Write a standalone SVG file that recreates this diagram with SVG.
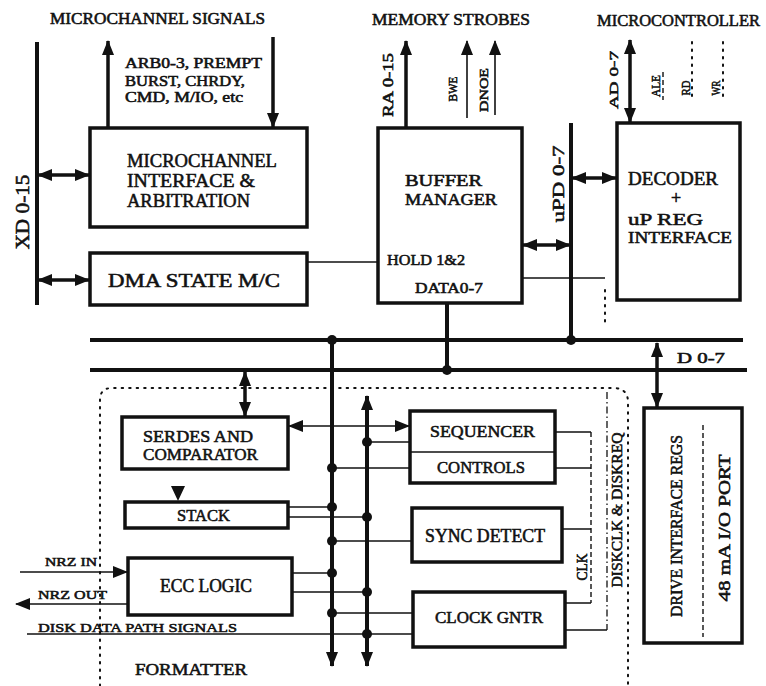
<svg xmlns="http://www.w3.org/2000/svg" width="766" height="686" viewBox="0 0 766 686">
<defs>
<style>
.t{font-family:"Liberation Serif","DejaVu Serif",serif;font-weight:normal;fill:#111;stroke:#111;stroke-width:0.55}
.s13{font-size:13px}.s14{font-size:14px}.s15{font-size:15px}.s16{font-size:16px}.s17{font-size:17px}.s18{font-size:18px}.s19{font-size:19px}
.box{fill:#fff;stroke:#111;stroke-width:3.5}
.bus{fill:none;stroke:#111;stroke-width:4}
.arr{fill:none;stroke:#111;stroke-width:3.5}
.thin{fill:none;stroke:#111;stroke-width:1.6}
.dash{fill:none;stroke:#111;stroke-width:1.4;stroke-dasharray:5 3}
.dot{fill:none;stroke:#111;stroke-width:2;stroke-dasharray:1.5 6;stroke-linecap:round}
.dd{fill:none;stroke:#111;stroke-width:1.3;stroke-dasharray:7 3 1.5 3}
.jn{fill:#111}
</style>
<marker id="ah" viewBox="0 0 15 12" refX="14" refY="6" markerWidth="15" markerHeight="12" markerUnits="userSpaceOnUse" orient="auto-start-reverse"><path d="M0,0 L15,6 L0,12 Z" fill="#111"/></marker>
</defs>
<rect width="766" height="686" fill="#fff"/>

<g id="titles">
<text class="t s16" x="50" y="24" textLength="215" lengthAdjust="spacingAndGlyphs">MICROCHANNEL SIGNALS</text>
<text class="t s16" x="372" y="25" textLength="158" lengthAdjust="spacingAndGlyphs">MEMORY STROBES</text>
<text class="t s16" x="597" y="26" textLength="163" lengthAdjust="spacingAndGlyphs">MICROCONTROLLER</text>
</g>

<g id="connectors">
<path class="bus" d="M37,42 V305"/>
<path class="arr" d="M108,128 V41" marker-end="url(#ah)"/>
<path class="arr" d="M273,37 V127" marker-end="url(#ah)"/>
<path class="arr" d="M38,175 H89" marker-start="url(#ah)" marker-end="url(#ah)"/>
<path class="arr" d="M38,280 H89" marker-start="url(#ah)" marker-end="url(#ah)"/>
<path class="arr" d="M406,128 V41" marker-end="url(#ah)"/>
<path class="thin" d="M467,118 V41" marker-end="url(#ah)"/>
<path class="thin" d="M495,115 V41" marker-end="url(#ah)"/>
<path class="bus" d="M571,123 V340"/>
<path class="arr" d="M523,245 H570" marker-start="url(#ah)" marker-end="url(#ah)"/>
<path class="arr" d="M572,178 H616" marker-start="url(#ah)" marker-end="url(#ah)"/>
<path class="arr" d="M630,40 V122" marker-start="url(#ah)" marker-end="url(#ah)"/>
<path class="dash" d="M663,72 V100"/>
<path class="dot" d="M692,42 V100"/>
<path class="dot" d="M723,42 V100"/>
<path class="thin" d="M307,262 H378"/>
<path class="thin" d="M522,278 H605"/>
<path class="dot" d="M605,290 V326"/>
<path class="bus" d="M447,303 V370"/>
<path class="bus" d="M90,340 H743"/>
<path class="bus" d="M90,370 H747"/>
<path class="arr" d="M657,343 V407" marker-start="url(#ah)" marker-end="url(#ah)"/>
<path class="arr" d="M245,372 V416" marker-start="url(#ah)" marker-end="url(#ah)"/>
<path class="bus" d="M332,340 V666" marker-end="url(#ah)"/>
<path class="bus" d="M367,396 V666" marker-start="url(#ah)" marker-end="url(#ah)"/>
<path class="thin" d="M289,426 H409" marker-start="url(#ah)" marker-end="url(#ah)"/>
<path class="thin" d="M367,442 H410"/>
<path class="thin" d="M332,468 H410"/>
<path class="thin" d="M288,507 H332"/>
<path class="thin" d="M288,517 H367"/>
<path class="thin" d="M332,541 H412"/>
<path class="thin" d="M292,573 H332"/>
<path class="thin" d="M292,592 H367"/>
<path class="thin" d="M332,613 H413"/>
<path class="thin" d="M27,634 H413"/>
<path class="thin" d="M20,572 H127" marker-end="url(#ah)"/>
<path class="thin" d="M128,604 H16" marker-end="url(#ah)"/>
<path class="thin" d="M555,432 H591 M555,468 H591 M562,529 H591 M565,603 H591 M565,630 H607"/>
<path class="dash" d="M591,432 V603"/>
<path class="dd" d="M607,392 V630"/>
<path d="M171,486 L185,486 L178,501 Z" fill="#111"/>
<circle class="jn" cx="332" cy="340" r="5"/>
<circle class="jn" cx="571" cy="340" r="5"/>
<circle class="jn" cx="447" cy="370" r="5"/>
<circle class="jn" cx="367" cy="442" r="5"/>
<circle class="jn" cx="332" cy="468" r="5"/>
<circle class="jn" cx="332" cy="507" r="5"/>
<circle class="jn" cx="367" cy="517" r="5"/>
<circle class="jn" cx="332" cy="541" r="5"/>
<circle class="jn" cx="332" cy="573" r="5"/>
<circle class="jn" cx="367" cy="592" r="5"/>
<circle class="jn" cx="332" cy="613" r="5"/>
<circle class="jn" cx="367" cy="634" r="5"/>
</g>

<g id="formatter">
<path class="dot" d="M100,686 V400 Q100,388 112,388 H615 Q628,389 628,402 V686"/>
<text class="t s17" x="135" y="675" textLength="112" lengthAdjust="spacingAndGlyphs">FORMATTER</text>
</g>

<g id="labels">
<text class="t s14" x="125" y="68" textLength="137" lengthAdjust="spacingAndGlyphs">ARB0-3, PREMPT</text>
<text class="t s14" x="125" y="86" textLength="120" lengthAdjust="spacingAndGlyphs">BURST, CHRDY,</text>
<text class="t s14" x="125" y="102" textLength="118" lengthAdjust="spacingAndGlyphs">CMD, M/IO, etc</text>
<text class="t s18" transform="translate(29,212) rotate(-90)" text-anchor="middle" textLength="75" lengthAdjust="spacingAndGlyphs">XD 0-15</text>
<text class="t s15" transform="translate(393,85) rotate(-90)" text-anchor="middle" textLength="64" lengthAdjust="spacingAndGlyphs">RA 0-15</text>
<text class="t s13" transform="translate(457,89) rotate(-90)" text-anchor="middle" textLength="25" lengthAdjust="spacingAndGlyphs">BWE</text>
<text class="t s13" transform="translate(488,90) rotate(-90)" text-anchor="middle" textLength="44" lengthAdjust="spacingAndGlyphs">DNOE</text>
<text class="t s17" transform="translate(564,184) rotate(-90)" text-anchor="middle" textLength="77" lengthAdjust="spacingAndGlyphs">uPD 0-7</text>
<text class="t s13" transform="translate(618,80) rotate(-90)" text-anchor="middle" textLength="58" lengthAdjust="spacingAndGlyphs">AD 0-7</text>
<text class="t s13" transform="translate(660,86) rotate(-90)" text-anchor="middle" textLength="22" lengthAdjust="spacingAndGlyphs">ALE</text>
<text class="t s13" transform="translate(690,88) rotate(-90)" text-anchor="middle" textLength="15" lengthAdjust="spacingAndGlyphs">RD</text>
<text class="t s13" transform="translate(720,88) rotate(-90)" text-anchor="middle" textLength="15" lengthAdjust="spacingAndGlyphs">WR</text>
<text class="t s15" x="677" y="363" textLength="48" lengthAdjust="spacingAndGlyphs">D 0-7</text>
<text class="t s13" x="45" y="566" textLength="52" lengthAdjust="spacingAndGlyphs">NRZ IN</text>
<text class="t s13" x="38" y="599" textLength="69" lengthAdjust="spacingAndGlyphs">NRZ OUT</text>
<text class="t s13" x="38" y="632" textLength="199" lengthAdjust="spacingAndGlyphs">DISK DATA PATH SIGNALS</text>
<text class="t s14" transform="translate(587,567) rotate(-90)" text-anchor="middle" textLength="27" lengthAdjust="spacingAndGlyphs">CLK</text>
<text class="t s15" transform="translate(622,510) rotate(-90)" text-anchor="middle" textLength="155" lengthAdjust="spacingAndGlyphs">DISKCLK &amp; DISKREQ</text>
</g>

<g id="mc-interface">
<rect class="box" x="90" y="128" width="217" height="99"/>
<text class="t s19" x="127" y="167" textLength="150" lengthAdjust="spacingAndGlyphs">MICROCHANNEL</text>
<text class="t s19" x="127" y="187" textLength="128" lengthAdjust="spacingAndGlyphs">INTERFACE &amp;</text>
<text class="t s19" x="127" y="207" textLength="123" lengthAdjust="spacingAndGlyphs">ARBITRATION</text>
</g>

<g id="dma">
<rect class="box" x="90" y="253" width="217" height="52"/>
<text class="t s19" x="108" y="287" textLength="172" lengthAdjust="spacingAndGlyphs">DMA STATE M/C</text>
</g>

<g id="buffer-manager">
<rect class="box" x="378" y="128" width="144" height="175"/>
<text class="t s16" x="405" y="186" textLength="77" lengthAdjust="spacingAndGlyphs">BUFFER</text>
<text class="t s16" x="405" y="205" textLength="92" lengthAdjust="spacingAndGlyphs">MANAGER</text>
<text class="t s15" x="387" y="265" textLength="78" lengthAdjust="spacingAndGlyphs">HOLD 1&amp;2</text>
<text class="t s15" x="415" y="293" textLength="68" lengthAdjust="spacingAndGlyphs">DATA0-7</text>
</g>

<g id="decoder">
<rect class="box" x="617" y="123" width="123" height="177"/>
<text class="t s18" x="628" y="185" textLength="90" lengthAdjust="spacingAndGlyphs">DECODER</text>
<text class="t s18" x="676" y="204" text-anchor="middle">+</text>
<text class="t s17" x="628" y="225" textLength="75" lengthAdjust="spacingAndGlyphs">uP REG</text>
<text class="t s17" x="628" y="243" textLength="104" lengthAdjust="spacingAndGlyphs">INTERFACE</text>
</g>

<g id="serdes">
<rect class="box" x="122" y="417" width="166" height="52"/>
<text class="t s17" x="143" y="442" textLength="110" lengthAdjust="spacingAndGlyphs">SERDES AND</text>
<text class="t s17" x="143" y="460" textLength="115" lengthAdjust="spacingAndGlyphs">COMPARATOR</text>
</g>

<g id="sequencer">
<rect class="box" x="410" y="411" width="145" height="72"/>
<path class="thin" d="M410,452 H555"/>
<text class="t s17" x="430" y="437" textLength="105" lengthAdjust="spacingAndGlyphs">SEQUENCER</text>
<text class="t s17" x="437" y="473" textLength="88" lengthAdjust="spacingAndGlyphs">CONTROLS</text>
</g>

<g id="stack">
<rect class="box" x="125" y="502" width="163" height="26"/>
<text class="t s17" x="177" y="521" textLength="53" lengthAdjust="spacingAndGlyphs">STACK</text>
</g>

<g id="sync-detect">
<rect class="box" x="412" y="508" width="150" height="54"/>
<text class="t s18" x="425" y="542" textLength="120" lengthAdjust="spacingAndGlyphs">SYNC DETECT</text>
</g>

<g id="ecc">
<rect class="box" x="128" y="558" width="164" height="57"/>
<text class="t s18" x="160" y="592" textLength="92" lengthAdjust="spacingAndGlyphs">ECC LOGIC</text>
</g>

<g id="clock-gntr">
<rect class="box" x="413" y="592" width="152" height="55"/>
<text class="t s17" x="435" y="623" textLength="108" lengthAdjust="spacingAndGlyphs">CLOCK GNTR</text>
</g>

<g id="drive-interface">
<rect class="box" x="644" y="408" width="98" height="235"/>
<path class="dash" d="M703,425 V637"/>
<text class="t s16" transform="translate(682,526) rotate(-90)" text-anchor="middle" textLength="182" lengthAdjust="spacingAndGlyphs">DRIVE INTERFACE REGS</text>
<text class="t s16" transform="translate(730,528) rotate(-90)" text-anchor="middle" textLength="147" lengthAdjust="spacingAndGlyphs">48 mA I/O PORT</text>
</g>
</svg>
